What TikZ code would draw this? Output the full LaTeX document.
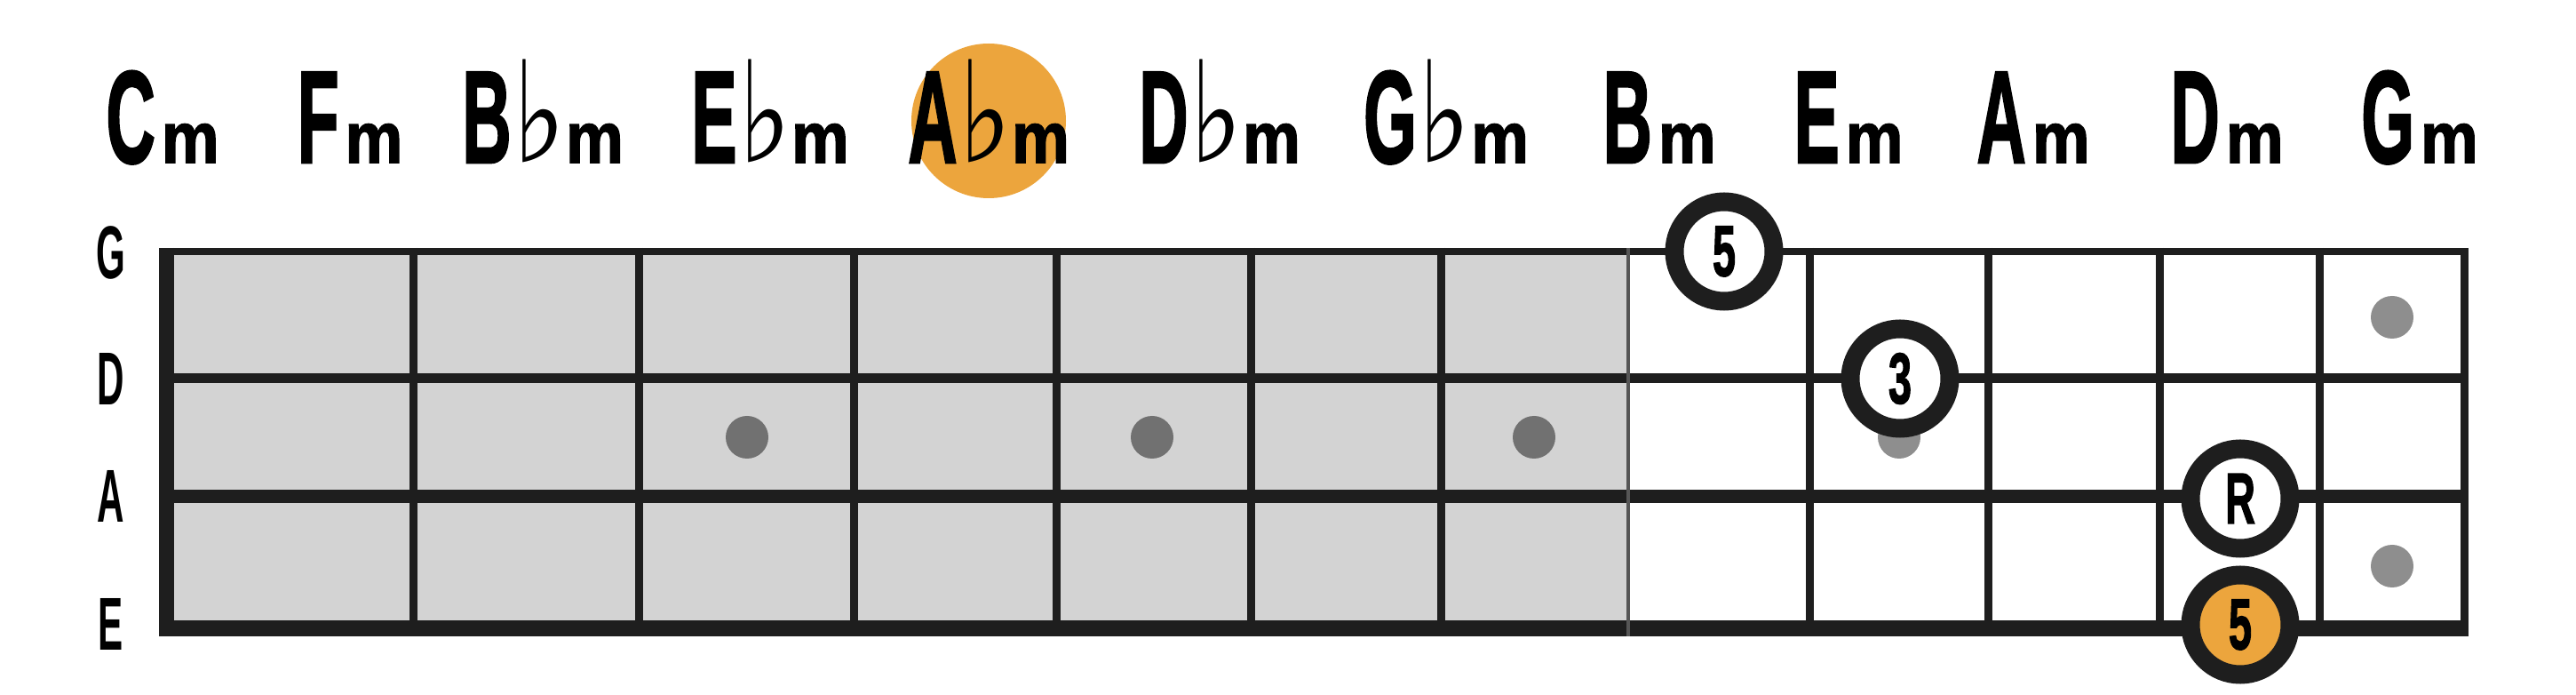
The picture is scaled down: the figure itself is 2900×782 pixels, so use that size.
\documentclass[tikz,border=0pt]{standalone}
\usepackage{fontspec}
\usepackage{graphicx}
\setmainfont{Liberation Sans}
\newfontfamily\heavyfont[FakeBold=2]{Liberation Sans Bold}
\newfontfamily\labelfont{Liberation Sans Bold}
\newfontfamily\symfont{DejaVu Sans}
\definecolor{fretline}{HTML}{1E1E1E}
\definecolor{fretboard}{HTML}{D3D3D3}
\definecolor{highlight}{HTML}{ECA53D}
\definecolor{inlaydark}{HTML}{717171}
\definecolor{inlaygrey}{HTML}{8E8E8E}
\newcommand{\flatmark}{\kern-1.5pt\scalebox{0.8}[1]{\symfont\fontsize{45}{45}\selectfont ♭}\kern0pt}
\newcommand{\chordname}[2]{\scalebox{0.52}[1]{\heavyfont\fontsize{42}{42}\selectfont #1}\kern2pt#2\scalebox{0.9}[1]{\heavyfont\fontsize{23}{23}\selectfont m}}
\newcommand{\stringname}[1]{\scalebox{0.5}[1]{\labelfont\fontsize{24}{24}\selectfont #1}}
\newcommand{\tonename}[1]{\scalebox{0.58}[1]{\heavyfont\fontsize{23}{23}\selectfont #1}}
\tikzset{
  chord/.style={anchor=base, inner sep=0pt},
  stringlabel/.style={anchor=base, inner sep=0pt},
  fret/.style={draw=fretline, line width=0.9mm},
  inlay/.style={circle, fill=inlaydark, minimum size=4.8mm, inner sep=0pt},
  inlaylight/.style={inlay, fill=inlaygrey},
  tone/.style={circle, draw=fretline, line width=2.1mm, fill=white,
               minimum size=11.2mm, inner sep=0pt},
  roottone/.style={tone, fill=highlight},
}

\begin{document}
\begin{tikzpicture}[x=0.1mm, y=-0.1mm]
    \useasboundingbox[fill=white] (0,0) rectangle (2900,782);
    % highlighted key
    \node[circle, fill=highlight, minimum size=17.4mm, inner sep=0pt] (abmmark) at (1113,136) {};
    % chord names
    \node[chord] (cm) at (183,183) {\chordname{C}{}};
    \node[chord] (fm) at (394,183) {\chordname{F}{}};
    \node[chord] (bbm) at (611,183) {\chordname{B}{\flatmark}};
    \node[chord] (ebm) at (867,183) {\chordname{E}{\flatmark}};
    \node[chord] (abm) at (1113,183) {\chordname{A}{\flatmark}};
    \node[chord] (dbm) at (1373,183) {\chordname{D}{\flatmark}};
    \node[chord] (gbm) at (1628,183) {\chordname{G}{\flatmark}};
    \node[chord] (bm) at (1868,183) {\chordname{B}{}};
    \node[chord] (em) at (2081,183) {\chordname{E}{}};
    \node[chord] (am) at (2289,183) {\chordname{A}{}};
    \node[chord] (dm) at (2507,183) {\chordname{D}{}};
    \node[chord] (gm) at (2724,183) {\chordname{G}{}};
    % string names
    \node[stringlabel] (gstr) at (125,314) {\stringname{G}};
    \node[stringlabel] (dstr) at (125,456) {\stringname{D}};
    \node[stringlabel] (astr) at (125,588) {\stringname{A}};
    \node[stringlabel] (estr) at (125,731) {\stringname{E}};
    % fretboard
    \fill[fretboard] (188,283) rectangle (1833,707);
    \draw[fretline, line width=0.8mm] (179,283) -- (2779,283);
    \draw[fretline, line width=1.1mm] (179,425.5) -- (2779,425.5);
    \draw[fretline, line width=1.5mm] (179,558.5) -- (2779,558.5);
    \draw[fretline, line width=1.8mm] (179,707) -- (2779,707);
    \draw[fretline, line width=1.7mm] (187.5,279) -- (187.5,716);
    \draw[fret] (465,279) -- (465,716);
    \draw[fret] (719,279) -- (719,716);
    \draw[fret] (961,279) -- (961,716);
    \draw[fret] (1189,279) -- (1189,716);
    \draw[fret] (1408,279) -- (1408,716);
    \draw[fret] (1622,279) -- (1622,716);
    \draw[fretline!75, line width=0.45mm] (1833,279) -- (1833,716);
    \draw[fret] (2037,279) -- (2037,716);
    \draw[fret] (2238,279) -- (2238,716);
    \draw[fret] (2431,279) -- (2431,716);
    \draw[fret] (2611,279) -- (2611,716);
    \draw[fret] (2774.5,279) -- (2774.5,716);
    % inlays
    \node[inlay] (dot3) at (841,492) {};
    \node[inlay] (dot5) at (1297,492) {};
    \node[inlay] (dot7) at (1727,492) {};
    \node[inlaylight] (dot9) at (2138,492) {};
    \node[inlaylight] (dot12a) at (2693,357) {};
    \node[inlaylight] (dot12b) at (2693,637) {};
    % chord tones
    \node[tone] (fifthtop) at (1941,283) {\tonename{5}};
    \node[tone] (third) at (2139,426) {\tonename{3}};
    \node[tone] (root) at (2522,561) {\tonename{R}};
    \node[roottone] (fifthlow) at (2522,703) {\tonename{5}};
\end{tikzpicture}
\end{document}
